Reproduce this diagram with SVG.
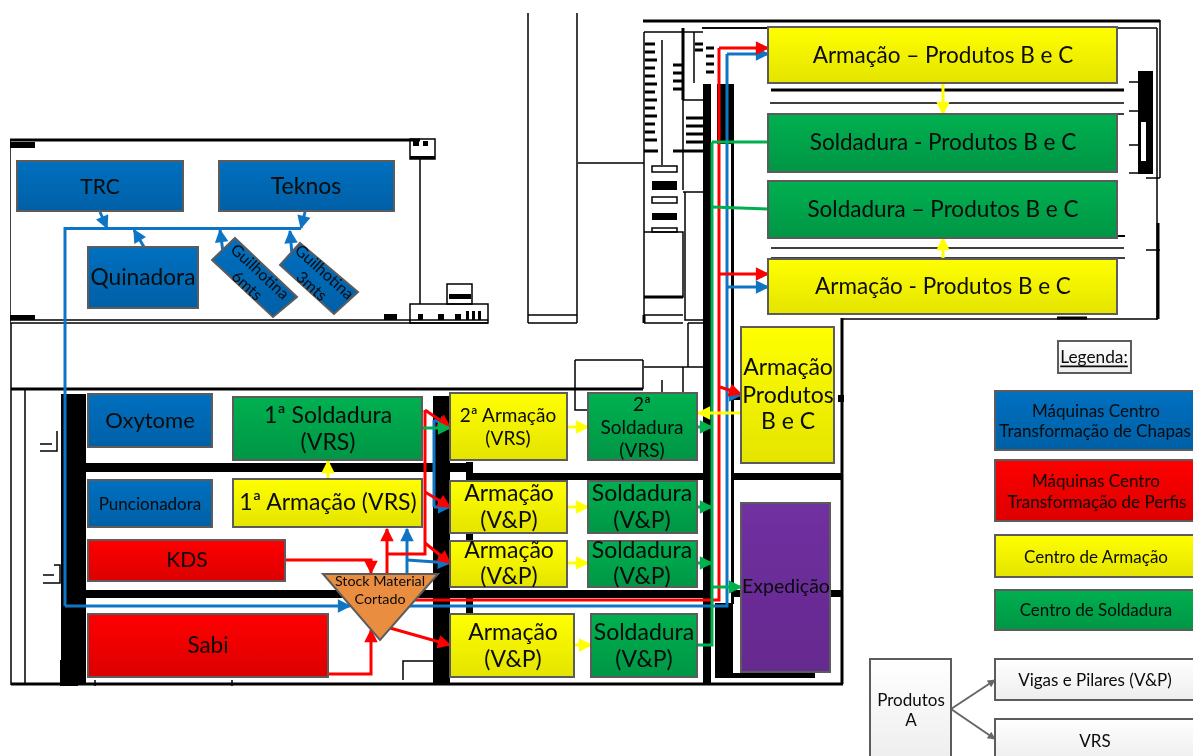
<svg xmlns="http://www.w3.org/2000/svg" width="1193" height="756" viewBox="0 0 1193 756">
<style>
.t{font-family:Lato,"Open Sans","Liberation Sans",sans-serif;fill:#0a0a0a;text-anchor:middle;dominant-baseline:central;transform:translateY(-1px)}
.b{stroke:#5c5c5c;stroke-width:2}
.fb{fill:url(#gb)}.fr{fill:url(#gr)}.fy{fill:url(#gy)}.fg{fill:url(#gg)}.fw{fill:url(#gw)}
.w{stroke:#000;fill:none;stroke-width:1.5}
.w2{stroke:#000;fill:none;stroke-width:3}
.k{fill:#000}
.c{fill:none;stroke-width:3}
.cr{stroke:#f00}.cb{stroke:#0f75c4}.cg{stroke:#00b050}.cy{stroke:#ff0}
.cx{stroke:#666;stroke-width:2;fill:none}
.s23{font-size:23px}.s17{font-size:17px}
</style>
<defs>
<linearGradient id="gb" x1="0" y1="0" x2="0" y2="1"><stop offset="0" stop-color="#0070c0"/><stop offset="1" stop-color="#0060a6"/></linearGradient>
<linearGradient id="gr" x1="0" y1="0" x2="0" y2="1"><stop offset="0" stop-color="#f00"/><stop offset="1" stop-color="#dc0000"/></linearGradient>
<linearGradient id="gy" x1="0" y1="0" x2="0" y2="1"><stop offset="0" stop-color="#ff0"/><stop offset="1" stop-color="#e4e400"/></linearGradient>
<linearGradient id="gg" x1="0" y1="0" x2="0" y2="1"><stop offset="0" stop-color="#00b050"/><stop offset="1" stop-color="#009645"/></linearGradient>
<linearGradient id="gw" x1="0" y1="0" x2="0" y2="1"><stop offset="0" stop-color="#fff"/><stop offset="1" stop-color="#eee"/></linearGradient>
<linearGradient id="gp" x1="0" y1="0" x2="0" y2="1"><stop offset="0" stop-color="#7030a0"/><stop offset="1" stop-color="#65298f"/></linearGradient>
<marker id="ar" viewBox="0 0 10 10" refX="9" refY="5" markerWidth="5" markerHeight="4.5" orient="auto" markerUnits="strokeWidth"><path d="M0 0L10 5L0 10z" fill="#f00"/></marker>
<marker id="ab" viewBox="0 0 10 10" refX="9" refY="5" markerWidth="5" markerHeight="4.5" orient="auto" markerUnits="strokeWidth"><path d="M0 0L10 5L0 10z" fill="#0f75c4"/></marker>
<marker id="ag" viewBox="0 0 10 10" refX="9" refY="5" markerWidth="5" markerHeight="4.5" orient="auto" markerUnits="strokeWidth"><path d="M0 0L10 5L0 10z" fill="#00b050"/></marker>
<marker id="ay" viewBox="0 0 10 10" refX="9" refY="5" markerWidth="5" markerHeight="4.5" orient="auto" markerUnits="strokeWidth"><path d="M0 0L10 5L0 10z" fill="#ff0"/></marker>
<marker id="ax" viewBox="0 0 10 10" refX="9" refY="5" markerWidth="5" markerHeight="4" orient="auto" markerUnits="strokeWidth"><path d="M0 0L10 5L0 10z" fill="#666"/></marker>
<filter id="soft" x="0" y="0" width="100%" height="100%"><feGaussianBlur stdDeviation="0.45"/></filter>
</defs>
<rect width="1193" height="756" fill="#fff"/>
<g filter="url(#soft)">
<g id="plan">
<path class="w2" d="M10 140H420M643 21H1160M11 389H643M11 684H843"/>
<path class="w" d="M10 140V322M10 320H488M10 323H488M420 158V304M11 323V685M25 389V685M528 13V323M577 13V323M528 315H577M528 323H577M578 163H644"/>
<path class="k" d="M10 142h25v6H10zM10 315h25v5H10zM384 314h13v6h-13zM449 294h22v5h-22zM61 394h25v291H61zM60 660h18v26H60zM86 463h387v9H86zM86 590h619v8H86zM433 396h17v288h-17zM466 462h7v15h-7zM466 534h7v7h-7zM466 597h7v17h-7zM466 473h239v7H466zM703 84h8v600h-8zM715 603h18v74h-18zM715 673h100v5H715zM731 84h3v520h-3zM717 84h14v60h-14zM733 473h110v7H733zM733 590h8v7h-8zM830 590h13v7h-13zM733 393h8v7h-8zM838 395h6v7h-6z"/>
<rect class="w" x="410" y="139" width="25" height="20"/>
<path class="k" d="M413 141h6v5h-6zM423 141h5v5h-5zM410 156h25v3h-25zM418 314h5v6h-5zM438 314h6v6h-6zM455 314h6v6h-6zM466 311h3v9h-3zM472 311h3v9h-3zM478 311h3v9h-3z"/>
<rect class="w" x="410" y="304" width="78" height="19"/>
<rect class="w" x="447" y="284" width="25" height="20"/>
<path class="w" d="M40 451h17v-20M40 444h12M43 583h17v-18h-6M43 575h11M95 680v6M232 680v6M403 680v-19h30M575 360v50h13M575 360h68M644 367h60M688 323v44M683 367v26M662 380v13M643 360v29"/>
<!-- upper-left wing -->
<path class="w" d="M644 32V323M644 32H703M702 28H768M662 40V165M694 32V83M683 100H703M683 100V190M683 192H703M685 192V320H703M644 232H683V297H644M644 315H683M644 323H683M688 323H705"/>
<path class="w2" d="M683 28V100M644 297H683M644 315V323M644 151H658M673 151H705"/>
<path stroke="#000" stroke-width="3" fill="none" d="M645 44h10M645 52h10M645 60h12M645 68h10M645 76h10M645 84h12M645 92h10M645 100h12M645 108h10M645 116h12M645 124h10M645 132h10M645 140h12M673 65h10M673 73h10M673 81h10M673 89h10M686 118h17M686 126h17M686 134h17M686 142h17M706 48h8M706 56h8M706 64h8M706 72h8M695 44h8M695 50h8"/>
<rect class="w" x="652" y="166" width="25" height="6"/>
<rect class="k" x="652" y="181" width="25" height="9"/>
<rect class="w" x="652" y="197" width="25" height="6"/>
<rect class="k" x="652" y="213" width="25" height="7"/>
<rect class="w" x="652" y="228" width="25" height="4"/>
<!-- top-right building -->
<path class="w" d="M1160 20V178M1157 28V320M702 28H1157M842 319H1157M1146 178H1160M1146 250H1160"/>
<path class="w2" d="M842 318V684M771 90H1124M1158 223V319M1057 318H1087"/>
<path class="w" d="M770 103H1124M771 248H1124M771 258H1125M1117 114H1124M1129 82H1138M1129 111H1138M1129 145H1138M1129 173H1138"/>
<path class="k" d="M1138 71h15v103h-15zM1118 235h7v2h-7z"/>
<rect x="1141" y="122" width="5" height="39" fill="#fff"/>
</g>

<g id="connectors">
<path class="c cb" d="M65 606V228.500H301"/>
<path class="c cb" marker-end="url(#ab)" d="M100 212L107 228"/>
<path class="c cb" marker-end="url(#ab)" d="M305 212L301 228"/>
<path class="c cb" marker-end="url(#ab)" d="M144 247L134 230"/>
<path class="c cb" marker-end="url(#ab)" d="M223 252L220 230"/>
<path class="c cb" marker-end="url(#ab)" d="M292 255L290 231"/>
<path class="c cb" marker-end="url(#ab)" d="M65 606H350"/>
<path class="c cb" d="M405 606H727V54"/>
<path class="c cb" marker-end="url(#ab)" d="M727 54H768"/>
<path class="c cb" marker-end="url(#ab)" d="M727 287H768"/>
<path class="c cb" marker-end="url(#ab)" d="M727 395H741"/>
<path class="c cb" marker-end="url(#ab)" d="M407 576V529"/>
<path class="c cb" marker-end="url(#ab)" d="M407 560L450 563"/>
<path class="c cb" d="M434 420V507"/>
<path class="c cb" marker-end="url(#ab)" d="M434 507H450"/>
<path class="c cb" marker-end="url(#ab)" d="M434 420L450 427"/>
<path class="c cr" marker-end="url(#ar)" d="M285 560H371V573"/>
<path class="c cr" marker-end="url(#ar)" d="M328 674H371V630"/>
<path class="c cr" marker-end="url(#ar)" d="M387 576V529"/>
<path class="c cr" d="M387 554H425V410"/>
<path class="c cr" marker-end="url(#ar)" d="M425 410L450 427"/>
<path class="c cr" marker-end="url(#ar)" d="M425 492L450 507"/>
<path class="c cr" marker-end="url(#ar)" d="M425 543L450 563"/>
<path class="c cr" marker-end="url(#ar)" d="M390 628L450 645"/>
<path class="c cr" d="M412 600H719V48"/>
<path class="c cr" marker-end="url(#ar)" d="M719 48H768"/>
<path class="c cr" marker-end="url(#ar)" d="M719 274H768"/>
<path class="c cr" marker-end="url(#ar)" d="M720 387L741 394"/>
<path class="c cg" d="M712 142V645H697"/>
<path class="c cg" d="M712 142H770M712 207L770 209"/>
<path class="c cg" marker-end="url(#ag)" d="M422 428H450"/>
<path class="c cg" marker-end="url(#ag)" d="M697 427H712"/>
<path class="c cg" marker-end="url(#ag)" d="M697 507H712"/>
<path class="c cg" marker-end="url(#ag)" d="M697 563H712"/>
<path class="c cg" marker-end="url(#ag)" d="M712 587H741"/>
<path class="c cy" marker-end="url(#ay)" d="M328 479V461"/>
<path class="c cy" marker-end="url(#ay)" d="M567 427H588"/>
<path class="c cy" marker-end="url(#ay)" d="M567 507H588"/>
<path class="c cy" marker-end="url(#ay)" d="M567 563H588"/>
<path class="c cy" marker-end="url(#ay)" d="M574 645H591"/>
<path class="c cy" marker-end="url(#ay)" d="M741 413H698"/>
<path class="c cy" marker-end="url(#ay)" d="M943 83V114"/>
<path class="c cy" marker-end="url(#ay)" d="M943 259V238"/>
<path class="cx" marker-end="url(#ax)" d="M951 709L995 680"/>
<path class="cx" marker-end="url(#ax)" d="M951 709L995 739"/>
</g>

<g id="trc"><rect class="b fb" x="17" y="161" width="166" height="50"/><text class="t" x="100" y="186" font-size="21">TRC</text></g>
<g id="teknos"><rect class="b fb" x="219" y="161" width="175" height="50"/><text class="t" x="306" y="186" font-size="23">Teknos</text></g>
<g id="quinadora"><rect class="b fb" x="88" y="247" width="110" height="61"/><text class="t" x="143" y="277" font-size="22.700">Quinadora</text></g>
<g id="guilhotina-6"><polygon class="b fb" points="235,238 297,297 273,317 212,260"/><g transform="translate(254.500,277.500) rotate(43)"><text class="t" y="-8" font-size="16">Guilhotina</text><text class="t" y="11" font-size="16">6mts</text></g></g>
<g id="guilhotina-3"><polygon class="b fb" points="300,243 358,292 334,314 280,265"/><g transform="translate(319,278) rotate(42)"><text class="t" y="-8" font-size="16">Guilhotina</text><text class="t" y="11" font-size="16">3mts</text></g></g>
<g id="oxytome"><rect class="b fb" x="88" y="394" width="124" height="53"/><text class="t" x="150" y="420" font-size="22">Oxytome</text></g>
<g id="soldadura-1"><rect class="b fg" x="233" y="397" width="189" height="63"/><text class="t s23" x="328" y="415">1ª Soldadura</text><text class="t s23" x="328" y="442">(VRS)</text></g>
<g id="puncionadora"><rect class="b fb" x="88" y="480" width="124" height="47"/><text class="t s17" x="150" y="504">Puncionadora</text></g>
<g id="armacao-1"><rect class="b fy" x="233" y="479" width="189" height="48"/><text class="t s23" x="328" y="502">1ª Armação (VRS)</text></g>
<g id="kds"><rect class="b fr" x="88" y="540" width="197" height="41"/><text class="t" x="187" y="559" font-size="21">KDS</text></g>
<g id="sabi"><rect class="b fr" x="88" y="614" width="240" height="63"/><text class="t" x="208" y="645" font-size="22.500">Sabi</text></g>
<g id="stock"><polygon class="b" fill="#e98e41" points="323,574 438,574 380,640"/><text class="t" x="380" y="581" font-size="14.300">Stock Material</text><text class="t" x="380" y="599" font-size="14.300">Cortado</text></g>
<g id="armacao-2"><rect class="b fy" x="450" y="393" width="117" height="67"/><text class="t" x="508" y="415" font-size="19">2ª Armação</text><text class="t" x="508" y="438" font-size="19">(VRS)</text></g>
<g id="soldadura-2"><rect class="b fg" x="588" y="393" width="109" height="67"/><text class="t" x="642" y="404" font-size="19">2ª</text><text class="t" x="642" y="427" font-size="19">Soldadura</text><text class="t" x="642" y="450" font-size="19">(VRS)</text></g>
<g id="armacao-vp-1"><rect class="b fy" x="450" y="481" width="117" height="52"/><text class="t s23" x="509" y="493">Armação</text><text class="t s23" x="509" y="520">(V&amp;P)</text></g>
<g id="soldadura-vp-1"><rect class="b fg" x="588" y="481" width="109" height="52"/><text class="t s23" x="642" y="493">Soldadura</text><text class="t s23" x="642" y="520">(V&amp;P)</text></g>
<g id="armacao-vp-2"><rect class="b fy" x="450" y="541" width="117" height="46"/><text class="t s23" x="509" y="550">Armação</text><text class="t s23" x="509" y="576">(V&amp;P)</text></g>
<g id="soldadura-vp-2"><rect class="b fg" x="588" y="541" width="109" height="46"/><text class="t s23" x="642" y="550">Soldadura</text><text class="t s23" x="642" y="576">(V&amp;P)</text></g>
<g id="armacao-vp-3"><rect class="b fy" x="450" y="614" width="124" height="63"/><text class="t s23" x="513" y="632">Armação</text><text class="t s23" x="513" y="659">(V&amp;P)</text></g>
<g id="soldadura-vp-3"><rect class="b fg" x="591" y="614" width="106" height="63"/><text class="t s23" x="644" y="632">Soldadura</text><text class="t s23" x="644" y="659">(V&amp;P)</text></g>
<g id="armacao-produtos"><rect class="b fy" x="741" y="327" width="93" height="136"/><text class="t s23" x="788" y="367">Armação</text><text class="t s23" x="788" y="395">Produtos</text><text class="t s23" x="788" y="421">B e C</text></g>
<g id="expedicao"><rect class="b" fill="url(#gp)" x="741" y="503" width="89" height="169"/><text class="t" x="786" y="586" font-size="19.500">Expedição</text></g>
<g id="armacao-bc-1"><rect class="b fy" x="768" y="27" width="349" height="56"/><text class="t" x="943" y="55" font-size="22.500">Armação – Produtos B e C</text></g>
<g id="soldadura-bc-1"><rect class="b fg" x="768" y="114" width="349" height="58"/><text class="t" x="943" y="142" font-size="22.500">Soldadura - Produtos B e C</text></g>
<g id="soldadura-bc-2"><rect class="b fg" x="768" y="181" width="349" height="57"/><text class="t" x="943" y="209" font-size="22.500">Soldadura – Produtos B e C</text></g>
<g id="armacao-bc-2"><rect class="b fy" x="768" y="259" width="349" height="55"/><text class="t" x="943" y="286" font-size="22.500">Armação - Produtos B e C</text></g>
<g id="legenda"><rect class="b fw" x="1058" y="341" width="73" height="32"/><text class="t" x="1094" y="357" font-size="17.300" text-decoration="underline">Legenda:</text></g>
<g id="legend-chapas"><rect class="b fb" x="995" y="391" width="200" height="59"/><text class="t s17" x="1096" y="411">Máquinas Centro</text><text class="t s17" x="1095" y="431">Transformação de Chapas</text></g>
<g id="legend-perfis"><rect class="b fr" x="995" y="460" width="200" height="61"/><text class="t s17" x="1096" y="481">Máquinas Centro</text><text class="t s17" x="1097" y="502">Transformação de Perfis</text></g>
<g id="legend-armacao"><rect class="b fy" x="995" y="535" width="200" height="42"/><text class="t s17" x="1096" y="557">Centro de Armação</text></g>
<g id="legend-soldadura"><rect class="b fg" x="995" y="590" width="200" height="40"/><text class="t s17" x="1096" y="610">Centro de Soldadura</text></g>
<g id="produtos-a"><rect class="b fw" x="870" y="659" width="81" height="100"/><text class="t s17" x="911" y="700">Produtos</text><text class="t s17" x="911" y="720">A</text></g>
<g id="vigas"><rect class="b fw" x="995" y="659" width="200" height="41"/><text class="t s17" x="1095" y="680">Vigas e Pilares (V&amp;P)</text></g>
<g id="vrs"><rect class="b fw" x="995" y="719" width="200" height="40"/><text class="t s17" x="1095" y="741">VRS</text></g>
</g>
</svg>
